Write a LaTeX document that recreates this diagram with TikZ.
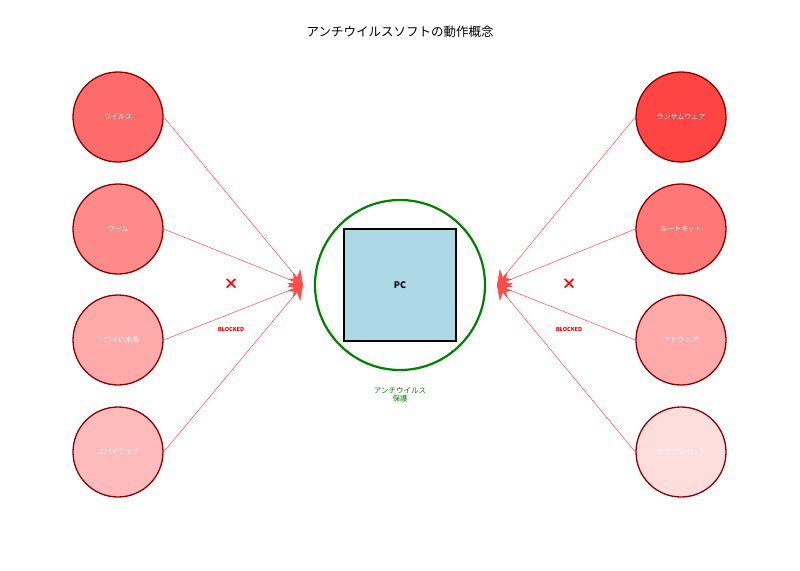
\documentclass[tikz,border=0pt]{standalone}
\usepackage{fontspec}
\setmainfont{Noto Sans CJK JP}
\usetikzlibrary{arrows.meta}
\definecolor{malred}{HTML}{8B0000}
\tikzset{
  threat/.style={circle, draw=malred, line width=1.3pt, minimum size=90pt, inner sep=0pt, text=white, font=\fontsize{7}{8}\selectfont},
  attack/.style={red!70, line width=0.5pt, -{Stealth[length=14pt,width=16pt]}},
  blk/.style={red, font=\bfseries\fontsize{5.5}{6}\selectfont}
}
\begin{document}
\begin{tikzpicture}[x=1pt,y=-1pt]
  \useasboundingbox (0,0) rectangle (800,570);
  \node (title) at (400,32) {\fontsize{12.5}{14}\selectfont アンチウイルスソフトの動作概念};
  % protection
  \node[circle, draw={rgb,255:red,0;green,128;blue,0}, line width=2.2pt, minimum size=170pt] (shield) at (400,285) {};
  \node[draw, line width=1.3pt, fill={rgb,255:red,173;green,216;blue,230}, minimum size=112pt] (pc) at (400,285) {\bfseries\fontsize{9}{10}\selectfont PC};
  \node[text={rgb,255:red,0;green,128;blue,0}, align=center, font=\fontsize{7.5}{8.5}\selectfont] (lbl) at (400,395) {アンチウイルス\\保護};
  \coordinate (hitL) at (303,285);
  \coordinate (hitR) at (497,285);
  % threats
  \foreach \n/\y/\c/\t in {l1/117/FF6B6B/ウイルス, l2/229/FF8A8A/ワーム, l3/340/FFAAAA/トロイの木馬, l4/452/FFBBBB/スパイウェア}{
    \definecolor{tc}{HTML}{\c}
    \node[threat, fill=tc] (\n) at (118,\y) {\t};
    \draw[attack] (\n.east) -- (hitL);
  }
  \foreach \n/\y/\c/\t in {r1/117/FF4444/ランサムウェア, r2/229/FF7777/ルートキット, r3/340/FFAAAA/アドウェア, r4/452/FFDDDD/マクロウイルス}{
    \definecolor{tc}{HTML}{\c}
    \node[threat, fill=tc] (\n) at (681,\y) {\t};
    \draw[attack] (\n.west) -- (hitR);
  }
  % blocked marks
  \node[red, font=\bfseries\fontsize{15}{15}\selectfont] (xL) at (231,284) {×};
  \node[red, font=\bfseries\fontsize{15}{15}\selectfont] (xR) at (569,284) {×};
  \node[blk] (bL) at (231,329) {BLOCKED};
  \node[blk] (bR) at (569,329) {BLOCKED};
\end{tikzpicture}
\end{document}
